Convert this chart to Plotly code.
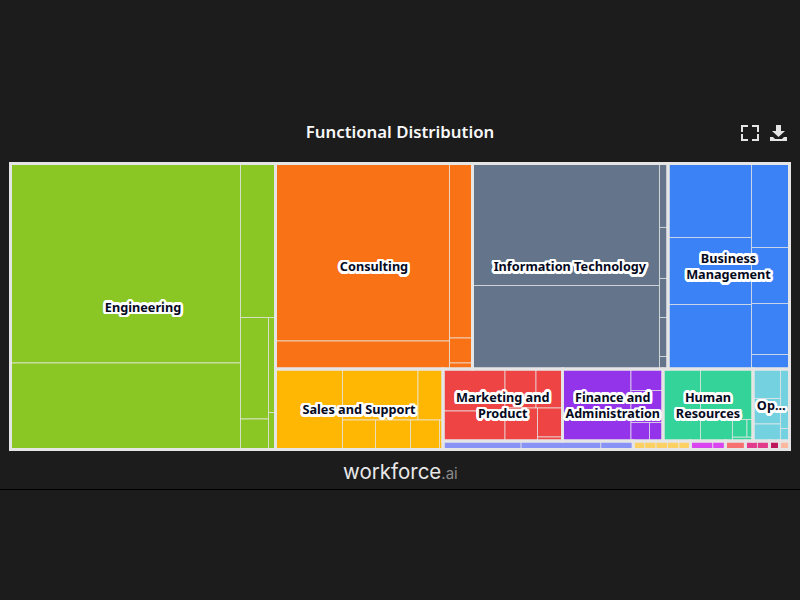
import plotly.graph_objects as go

W, H = 800, 600
bg = '#1c1c1c'
border = '#e5e5e5'

groups = ['Engineering', 'Consulting', 'Information Technology', 'Business Management',
          'Sales and Support', 'Marketing and Product', 'Finance and Administration',
          'Human Resources', 'Operations', 'Research', 'Design', 'Legal',
          'Education', 'Healthcare', 'Media', 'Other']
group_text = ['Engineering', 'Consulting', 'Information Technology', 'Business<br>Management',
              'Sales and Support', 'Marketing and<br>Product', 'Finance and<br>Administration',
              'Human<br>Resources', 'Op...', '', '', '', '', '', '', '']
group_colors = ['#8ac724', '#f97316', '#64748b', '#3b82f6', '#ffb703', '#ef4444', '#9333ea',
                '#34d399', '#74d2e0', '#8793f5', '#fcd062', '#d946ef', '#f87171',
                '#e23d8c', '#be185d', '#fdb8a0']

# sub-function sizes, estimated from the areas in the picture
engineering = [45885, 19895, 5390, 2842, 854, 665, 259]
consulting = [30885, 4872, 4013, 575, 138]
information_technology = [22814, 15614, 544, 434, 332, 332, 106]
business_management = [6179, 5595, 5386, 3192, 2128, 1938, 551]
sales_and_support = [5394, 3851, 1275, 974, 1032, 856, 103]
marketing_and_product = [2604, 1860, 1209, 1033, 1072, 725, 100]
finance_and_administration = [4932, 688, 1024, 342, 250]
human_resources = [2700, 2651, 688, 254, 105, 82]
operations = [811, 701, 468, 536, 113]
research = [663, 676, 276]
design = [97, 97, 97, 97, 97]
legal = [190, 107]
education = [170]
healthcare = [102, 102]
media = [85]
other = [85]

leaves = [engineering, consulting, information_technology, business_management,
          sales_and_support, marketing_and_product, finance_and_administration,
          human_resources, operations, research, design, legal,
          education, healthcare, media, other]

# how the tiles nest: h = side by side, v = stacked
top_split = ('h', [0, ('v', [('h', [1, 2, 3]),
                             ('h', [4, ('v', [('h', [5, 6, 7, 8]),
                                              ('h', [9, 10, 11, 12, 13, 14, 15])])])])])
inner_splits = [
  ('h', [('v', [0, 1]), ('v', [2, ('h', [('v', [3, 4]), ('v', [5, 6])])])]),
  ('h', [('v', [0, 1]), ('v', [2, 3, 4])]),
  ('h', [('v', [0, 1]), ('v', [2, 3, 4, 5, 6])]),
  ('h', [('v', [0, 1, 2]), ('v', [3, 4, 5, 6])]),
  ('h', [0, ('v', [('h', [1, 2]), ('h', [3, 4, 5, 6])])]),
  ('h', [('v', [0, 1]), ('v', [('h', [2, 3]), ('h', [4, ('v', [5, 6])])])]),
  ('h', [0, ('v', [1, 2, ('h', [3, 4])])]),
  ('h', [0, ('v', [1, ('h', [2, ('v', [('h', [3, 4]), 5])])])]),
  ('h', [('v', [0, 1, 2]), ('v', [3, 4])]),
  ('h', [0, 1, 2]),
  ('h', [0, 1, 2, 3, 4]),
  ('h', [0, 1]),
  ('h', [0]),
  ('h', [0, 1]),
  ('h', [0]),
  ('h', [0]),
]

halo = ', '.join(f'{x}px {y}px 0 #fff' for x, y in
                 [(-2.5, 0), (2.5, 0), (0, -2.5), (0, 2.5), (-2, -2), (2, -2), (-2, 2), (2, 2),
                  (-1, -2.5), (1, -2.5), (-1, 2.5), (1, 2.5), (-2.5, -1), (2.5, -1), (-2.5, 1), (2.5, 1)])

def px_x(x):
  return x / W

def px_y(y):
  return 1 - y / H

def px_path(points):
  return 'M' + ' L'.join(f'{px_x(x):.5f},{px_y(y):.5f}' for x, y in points) + ' Z'

def icon_shapes():
  corners = [
    [(741, 125), (748, 125), (748, 127), (743, 127), (743, 132), (741, 132)],
    [(752, 125), (759, 125), (759, 132), (757, 132), (757, 127), (752, 127)],
    [(741, 134), (743, 134), (743, 139), (748, 139), (748, 141), (741, 141)],
    [(757, 134), (759, 134), (759, 141), (752, 141), (752, 139), (757, 139)],
  ]
  arrow = [(776, 125), (781, 125), (781, 131), (785, 131), (778.5, 137), (772, 131), (776, 131)]
  tray = [(770, 137), (773, 137), (775, 139), (782, 139), (784, 137), (787, 137), (787, 141), (770, 141)]
  return [dict(type='path', xref='paper', yref='paper', path=px_path(p),
               fillcolor=border, line=dict(width=0)) for p in corners + [arrow, tray]]

class Tree:
  def __init__(self):
    self.ids, self.parents, self.values, self.colors, self.widths, self.text = [], [], [], [], [], []

  def add(self, id, parent, value, color, width, text=''):
    self.ids.append(id); self.parents.append(parent); self.values.append(value)
    self.colors.append(color); self.widths.append(width); self.text.append(text)

def total(spec, vals):
  if isinstance(spec, int): return vals[spec]
  return sum(total(s, vals) for s in spec[1])

# slice-dice tiling goes h at even depth, v at odd depth, so a one-child node fixes the parity
def add_split(tree, spec, vals, parent, depth, on_leaf):
  if isinstance(spec, int):
    on_leaf(tree, spec, parent, depth)
    return
  value = total(spec, vals)
  if (depth % 2 == 0) != (spec[0] == 'h'):
    node = f'{parent}>w'
    tree.add(node, parent, value, 'rgba(0,0,0,0)', 0)
    parent, depth = node, depth + 1
  node = f'{parent}>n{len(tree.ids)}'
  tree.add(node, parent, value, 'rgba(0,0,0,0)', 0)
  for child in spec[1]:
    add_split(tree, child, vals, node, depth + 1, on_leaf)

group_totals = [sum(vals) for vals in leaves]

def cell_leaf(tree, g, parent, depth):
  name = groups[g]
  tree.add(name, parent, group_totals[g], 'rgba(0,0,0,0)', 0)
  def sub_leaf(t, i, p, d):
    t.add(f'{name}/{i}', p, leaves[g][i], group_colors[g], 1)
  add_split(tree, inner_splits[g], leaves[g], name, depth + 1, sub_leaf)

def frame_leaf(tree, g, parent, depth):
  tree.add(groups[g], parent, group_totals[g], 'rgba(0,0,0,0)', 3, group_text[g])

cell_tree = Tree()
frame_tree = Tree()
add_split(cell_tree, top_split, group_totals, '', 0, cell_leaf)
add_split(frame_tree, top_split, group_totals, '', 0, frame_leaf)

domain = dict(x=[px_x(10.5), px_x(789.5)], y=[px_y(449.5), px_y(163.5)])
tiling = dict(packing='slice-dice', pad=0)
no_pad = dict(t=0, l=0, r=0, b=0)

def treemap(tree, **kwargs):
  return go.Treemap(
    ids=tree.ids, labels=tree.ids, parents=tree.parents, values=tree.values,
    branchvalues='total', sort=False, domain=domain, tiling=tiling, maxdepth=-1,
    root=dict(color='rgba(0,0,0,0)'),
    pathbar=dict(visible=False), hoverinfo='skip', **kwargs)

cells = treemap(cell_tree, textinfo='none',
                marker=dict(colors=cell_tree.colors, pad=no_pad, depthfade=False,
                            line=dict(color='rgba(235,235,235,0.7)', width=cell_tree.widths)))
frames = treemap(frame_tree, text=frame_tree.text, textinfo='text', textposition='middle center',
                 textfont=dict(family='Noto Sans', size=12.7, weight=700, color='#050a1e', shadow=halo),
                 marker=dict(colors=frame_tree.colors, pad=no_pad, depthfade=False,
                             line=dict(color=border, width=frame_tree.widths)))

fig = go.Figure(data=[cells, frames])
fig.update_layout(
  width=W, height=H, margin=dict(l=0, r=0, t=0, b=0),
  paper_bgcolor=bg, plot_bgcolor=bg, showlegend=False,
  title=dict(text='Functional Distribution', x=0.5, xanchor='center', y=px_y(132.5), yanchor='middle',
             font=dict(family='Noto Sans', size=16.8, weight=600, color='#f8f8f8')),
  annotations=[dict(text='workforce<span style="font-size:15px;color:#8a8a8a">.ai</span>',
                    x=0.5, xref='paper', xanchor='center', y=px_y(471.5), yref='paper', yanchor='middle',
                    showarrow=False, font=dict(family='Inter', size=20.5, color='#e8e8e8'))],
  shapes=icon_shapes() + [dict(type='line', xref='paper', yref='paper', x0=0, x1=1,
                               y0=px_y(489.5), y1=px_y(489.5), line=dict(color='#000000', width=1))],
)

fig.write_html('out.html', config=dict(displayModeBar=False),
               post_script="document.body.style.margin='0';document.body.style.background='#1c1c1c';")
